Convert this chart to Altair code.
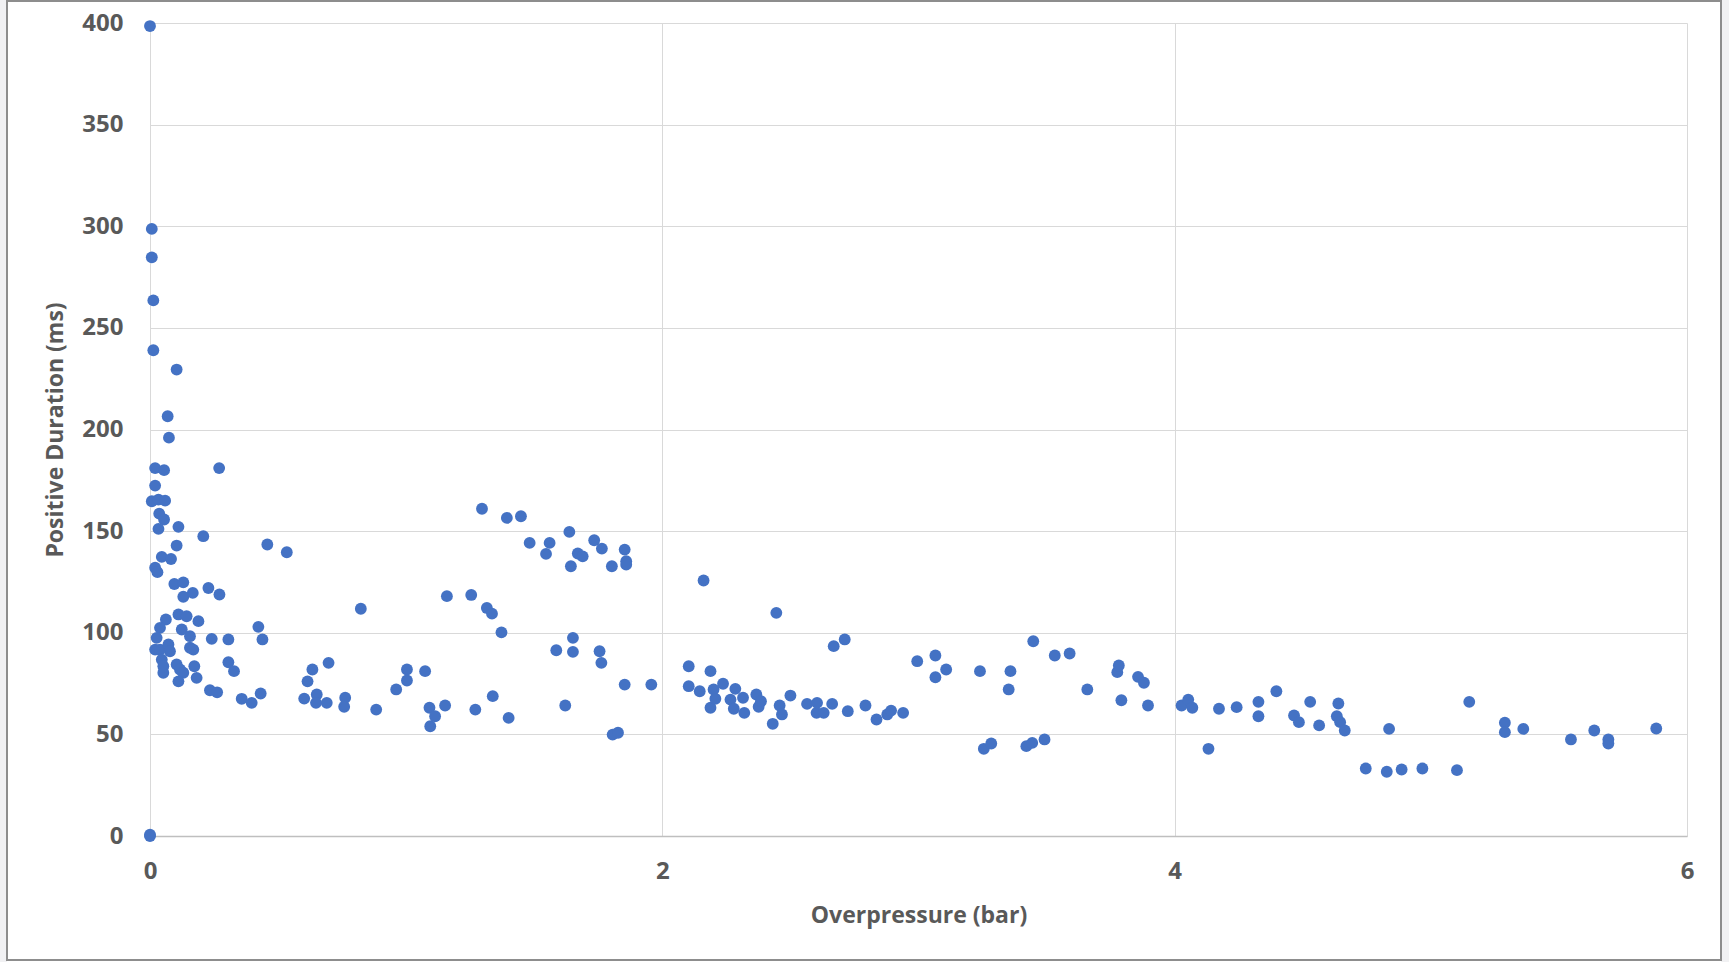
import altair as alt
import pandas as pd

# Overpressure (bar) and positive phase duration (ms) of each recorded blast
overpressure_bar = [
    0.000, 0.007, 0.007, 0.013, 0.013, 0.104, 0.069, 0.074, 0.020, 0.055,
    0.270, 0.020, 0.007, 0.033, 0.059, 0.036, 0.055, 0.033, 0.111, 0.208,
    0.104, 0.458, 0.534, 0.046, 0.082, 0.020, 0.029, 0.095, 0.130, 0.228,
    0.271, 0.130, 0.167, 0.062, 0.039, 0.026, 0.020, 0.039, 0.046, 0.052,
    0.052, 0.111, 0.143, 0.189, 0.124, 0.156, 0.072, 0.078, 0.156, 0.169,
    0.104, 0.117, 0.130, 0.173, 0.111, 0.182, 0.241, 0.306, 0.423, 0.439,
    0.306, 0.328, 0.234, 0.262, 0.358, 0.397, 0.432, 0.602, 0.615, 0.634,
    0.697, 0.651, 0.648, 0.690, 0.762, 0.758, 0.823, 0.883, 0.961, 1.003,
    1.003, 1.074, 1.091, 1.113, 1.094, 1.152, 1.159, 1.254, 1.270, 1.296,
    1.315, 1.335, 1.338, 1.372, 1.393, 1.400, 1.448, 1.482, 1.546, 1.560,
    1.586, 1.621, 1.637, 1.643, 1.651, 1.651, 1.670, 1.689, 1.734, 1.755,
    1.762, 1.764, 1.803, 1.806, 1.827, 1.853, 1.853, 1.859, 1.859, 1.957,
    2.103, 2.103, 2.146, 2.161, 2.188, 2.188, 2.200, 2.207, 2.237, 2.266,
    2.279, 2.285, 2.315, 2.320, 2.367, 2.376, 2.385, 2.431, 2.445, 2.458,
    2.467, 2.500, 2.565, 2.602, 2.604, 2.630, 2.663, 2.669, 2.712, 2.724,
    2.793, 2.836, 2.878, 2.893, 2.940, 2.995, 3.066, 3.066, 3.108, 3.240,
    3.255, 3.284, 3.352, 3.359, 3.421, 3.444, 3.448, 3.492, 3.532, 3.590,
    3.659, 3.776, 3.782, 3.792, 3.857, 3.880, 3.896, 4.027, 4.053, 4.069,
    4.132, 4.173, 4.242, 4.327, 4.327, 4.397, 4.466, 4.485, 4.529, 4.564,
    4.639, 4.633, 4.646, 4.664, 4.746, 4.828, 4.837, 4.886, 4.967, 5.102,
    5.150, 5.289, 5.289, 5.361, 5.547, 5.638, 5.693, 5.693, 5.880, 0.000,
    0.000,
]
positive_duration_ms = [
    398.5, 298.7, 284.7, 263.5, 239.0, 229.5, 206.5, 196.0, 181.0, 180.0,
    181.0, 172.4, 164.7, 165.5, 165.0, 158.6, 155.7, 151.1, 152.1, 147.5,
    142.9, 143.4, 139.6, 137.3, 136.3, 132.0, 129.8, 124.0, 124.8, 122.0,
    118.8, 117.7, 119.6, 106.5, 102.4, 97.5, 91.7, 91.7, 86.8, 80.3,
    83.5, 109.0, 108.1, 105.7, 101.6, 98.3, 94.2, 90.9, 92.6, 91.7,
    84.4, 81.9, 80.3, 83.5, 76.1, 77.8, 97.0, 96.7, 102.9, 96.7,
    85.5, 81.1, 71.7, 70.7, 67.5, 65.5, 70.1, 67.6, 76.1, 81.9,
    85.2, 69.6, 65.5, 65.5, 68.0, 63.6, 111.8, 62.2, 72.1, 81.9,
    76.5, 81.1, 63.1, 58.9, 54.0, 64.2, 118.0, 118.6, 62.2, 161.0,
    112.2, 109.4, 68.8, 100.2, 156.5, 58.1, 157.3, 144.2, 138.8, 144.2,
    91.4, 64.2, 149.6, 132.7, 97.5, 90.6, 139.0, 137.6, 145.5, 90.9,
    85.2, 141.4, 132.7, 49.9, 50.8, 140.9, 74.5, 135.2, 133.5, 74.5,
    83.5, 73.7, 71.2, 125.7, 81.1, 63.1, 72.1, 67.5, 74.9, 67.1,
    62.6, 72.4, 68.0, 60.6, 69.6, 63.6, 66.3, 55.2, 109.8, 64.2,
    59.8, 69.1, 65.0, 60.6, 65.5, 60.6, 65.0, 93.4, 96.7, 61.4,
    64.2, 57.3, 59.8, 61.7, 60.6, 86.0, 88.8, 78.1, 81.9, 81.1,
    42.9, 45.5, 72.1, 81.1, 44.2, 45.8, 95.8, 47.5, 88.8, 89.8,
    72.1, 80.6, 83.9, 66.8, 78.3, 75.4, 64.2, 64.2, 67.1, 63.1,
    42.9, 62.6, 63.4, 66.0, 58.9, 71.2, 59.3, 56.0, 66.0, 54.4,
    65.2, 58.9, 56.0, 51.9, 33.2, 31.6, 52.7, 32.7, 33.2, 32.4,
    66.0, 55.7, 51.1, 52.7, 47.5, 51.9, 47.5, 45.5, 52.9, 0.0,
    0.6,
]

x_ticks = [0, 2, 4, 6]
y_ticks = [0, 50, 100, 150, 200, 250, 300, 350, 400]

df = pd.DataFrame({"overpressure": overpressure_bar, "duration": positive_duration_ms})

FONT = "Open Sans"
TEXT = "#595959"
GRID = "#d9d9d9"

points = alt.Chart(df).mark_circle(size=140, color="#4472C4", opacity=1).encode(
    x=alt.X(
        "overpressure:Q",
        scale=alt.Scale(domain=[0, 6], nice=False, zero=True),
        axis=alt.Axis(
            title="Overpressure (bar)",
            values=x_ticks,
            grid=True,
            gridColor=GRID,
            domainColor="#bfbfbf",
            domainWidth=1.5,
            ticks=False,
            labelFlush=False,
            labelPadding=23,
            titlePadding=21,
        ),
    ),
    y=alt.Y(
        "duration:Q",
        scale=alt.Scale(domain=[0, 400], nice=False),
        axis=alt.Axis(
            title="Positive Duration (ms)",
            values=y_ticks,
            grid=True,
            gridColor=GRID,
            domainColor=GRID,
            ticks=False,
            labelFlush=False,
            labelPadding=27,
            titlePadding=14,
        ),
    ),
)

one_row = alt.Data(values=[{"k": 1}])

# light grey strips beside the chart frame
left_strip = alt.Chart(one_row).mark_rect(color="#f1f1f3").encode(
    x=alt.value(-150), x2=alt.value(-143), y=alt.value(-23), y2=alt.value(939)
)
right_strip = alt.Chart(one_row).mark_rect(color="#f1f1f3").encode(
    x=alt.value(1571), x2=alt.value(1579), y=alt.value(-23), y2=alt.value(939)
)
# outline of the chart frame
frame = alt.Chart(one_row).mark_rect(
    fillOpacity=0, stroke="#8d8d8d", strokeWidth=2
).encode(
    x=alt.value(-143), x2=alt.value(1571), y=alt.value(-22), y2=alt.value(937)
)

chart = (
    alt.layer(points, left_strip, right_strip, frame)
    .properties(
        width=1537,
        height=813,
        autosize=alt.AutoSizeParams(type="none"),
        padding={"left": 150, "top": 23, "right": 42, "bottom": 126},
        background="white",
    )
    .configure_view(strokeWidth=0)
    .configure_axis(
        labelFont=FONT,
        labelFontSize=24,
        labelFontWeight="bold",
        labelColor=TEXT,
        titleFont=FONT,
        titleFontSize=23,
        titleFontWeight="bold",
        titleColor=TEXT,
        gridWidth=1,
    )
)

chart.save("out.html", embed_options={"renderer": "svg", "actions": False})
